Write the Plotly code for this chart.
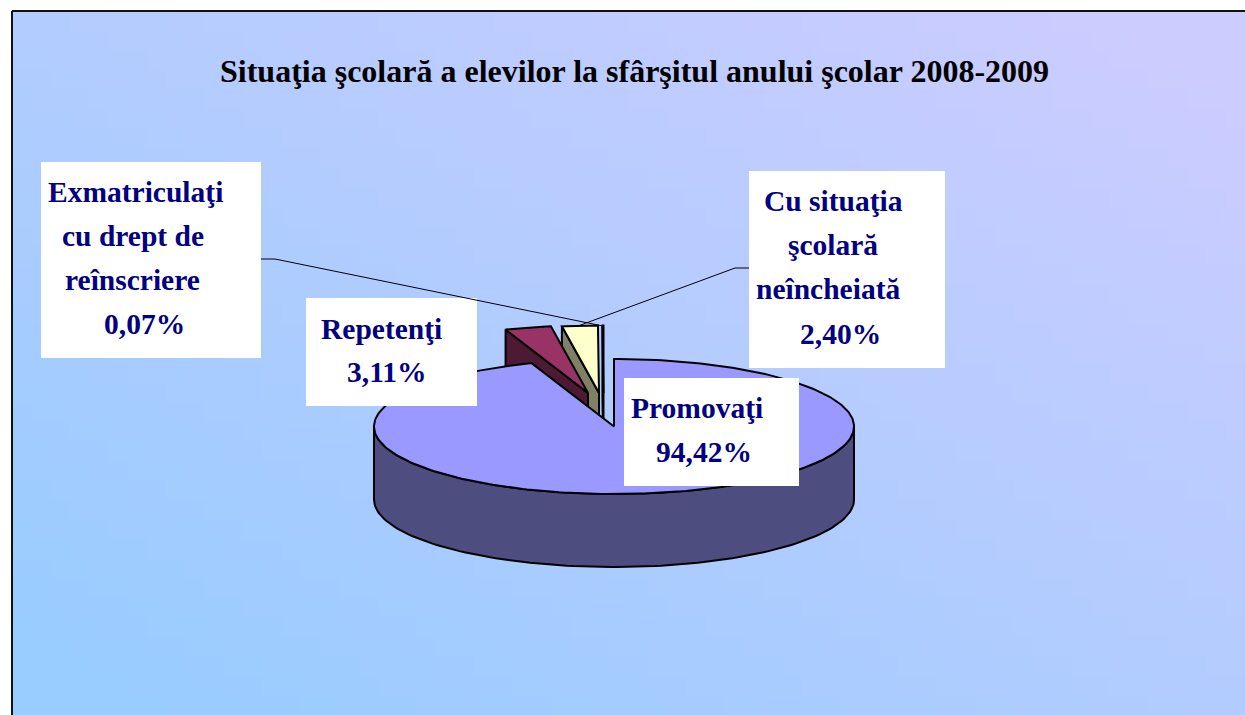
import numpy as np
import plotly.graph_objects as go

# ---- data ----
slice_names = ["Promovaţi", "Repetenţi", "Cu situaţia şcolară neîncheiată", "Exmatriculaţi cu drept de reînscriere"]
slice_values = [94.42, 3.11, 2.40, 0.07]
title_text = "Situaţia şcolară a elevilor la sfârşitul anului şcolar 2008-2009"
label_promovati = ["Promovaţi", "94,42%"]
label_repetenti = ["Repetenţi", "3,11%"]
label_situatia = ["Cu situaţia", "şcolară", "neîncheiată", "2,40%"]
label_exmatriculati = ["Exmatriculaţi", "cu drept de", "reînscriere", "0,07%"]

# ---- style / geometry ----
W, H = 1245, 715
CX, CY, RX, RY, DEPTH = 614, 426.5, 240, 67.5, 73
top_colors = ["#9999FF", "#993366", "#FFFFCC", "#CCFFFF"]
wall_colors = ["#4D4D80", "#4D1A33", "#808066", "#668080"]
shift_x = [0, -26, -15, -10.5]
shift_y = [0, -33.5, -33.5, -33.5]
NAVY = "#000080"
FONT = "Liberation Serif"

def ell(deg, cx, cy):
    a = np.radians(np.asarray(deg, dtype=float))
    return cx + RX * np.sin(a), cy - RY * np.cos(a)

edges = np.concatenate([[0], np.cumsum(slice_values)]) * 3.6 / (sum(slice_values) / 100)

fig = go.Figure()

# background gradient
gx = np.linspace(12, W, 65)
gy = np.linspace(11, H, 37)
mx, my = np.meshgrid((gx[:-1] + gx[1:]) / 2, (gy[:-1] + gy[1:]) / 2)
gt = np.clip((((mx - 12) / (W - 12) + (H - my) / (H - 11)) / 2 - 0.06) / 0.88, 0, 1)
fig.add_trace(go.Heatmap(x=gx, y=gy, z=gt, zmin=0, zmax=1, showscale=False, hoverinfo="skip",
                         colorscale=[[0, "#99CCFF"], [1, "#CCCCFF"]]))

def poly(xs, ys, color, name):
    fig.add_trace(go.Scatter(x=xs, y=ys, mode="lines", fill="toself", fillcolor=color, name=name,
                             line=dict(color="black", width=2), hoverinfo="skip", showlegend=False))

# exploded slices, back to front
for i in [3, 2, 1]:
    cx, cy = CX + shift_x[i], CY + shift_y[i]
    a0, a1 = edges[i], edges[i + 1]
    ox, oy = ell(a0, cx, cy)
    poly([cx, ox, ox, cx, cx], [cy, oy, oy + DEPTH, cy + DEPTH, cy], wall_colors[i], slice_names[i])
    ang = np.linspace(a0, a1, 12)
    ax, ay = ell(ang, cx, cy)
    poly(np.r_[cx, ax, cx], np.r_[cy, ay, cy], top_colors[i], slice_names[i])

# main slice: rim, then top
ang = np.linspace(90, 270, 120)
ax, ay = ell(ang, CX, CY)
poly(np.r_[ax, ax[::-1], ax[0]], np.r_[ay, ay[::-1] + DEPTH, ay[0]], wall_colors[0], slice_names[0])
ang = np.linspace(edges[0], edges[1], 300)
ax, ay = ell(ang, CX, CY)
poly(np.r_[CX, ax, CX], np.r_[CY, ay, CY], top_colors[0], slice_names[0])

shapes = [
    dict(type="line", x0=12, y0=H, x1=12, y1=11, line=dict(color="#111111", width=2)),
    dict(type="line", x0=12, y0=11, x1=W, y1=11, line=dict(color="#111111", width=2)),
]
boxes = [(41, 162, 261, 358), (749, 171, 945, 368), (306, 298, 477, 406), (624, 378, 799, 486)]
for b in boxes:
    shapes.append(dict(type="rect", x0=b[0], y0=b[1], x1=b[2], y1=b[3], fillcolor="white",
                       line=dict(width=0), layer="above"))
leaders = [[(261, 259), (275, 259), (603, 326)], [(749, 268), (735, 268), (578, 326)]]
for pts in leaders:
    for p, q in zip(pts[:-1], pts[1:]):
        shapes.append(dict(type="line", x0=p[0], y0=p[1], x1=q[0], y1=q[1],
                           line=dict(color="black", width=1), layer="above"))

annotations = [dict(text=f"<b>{title_text}</b>", x=634, y=71, xref="x", yref="y", showarrow=False,
                    font=dict(family=FONT, size=32, color="black"), xanchor="center", yanchor="middle")]

def add_label(lines, centers, mids):
    for t, x, y in zip(lines, centers, mids):
        annotations.append(dict(text=f"<b>{t}</b>", x=x, y=y, xref="x", yref="y", showarrow=False,
                                font=dict(family=FONT, size=29.5, color=NAVY),
                                xanchor="center", yanchor="middle"))

add_label(label_exmatriculati, [135.5, 133, 132.5, 144.5], [192, 236, 280, 324])
add_label(label_situatia, [833.5, 833, 828, 840.5], [201, 245, 289, 334])
add_label(label_repetenti, [381.5, 386.5], [329, 372])
add_label(label_promovati, [697, 704], [408, 452])

fig.update_layout(
    width=W, height=H, margin=dict(l=0, r=0, t=0, b=0), autosize=False,
    paper_bgcolor="white", plot_bgcolor="white", showlegend=False,
    xaxis=dict(range=[0, W], visible=False, fixedrange=True),
    yaxis=dict(range=[H, 0], visible=False, fixedrange=True),
    shapes=shapes, annotations=annotations,
)
fig.write_html("out.html", config=dict(displayModeBar=False),
               post_script="document.body.style.margin='0';document.documentElement.style.overflow='hidden';window.dispatchEvent(new Event('resize'));")
